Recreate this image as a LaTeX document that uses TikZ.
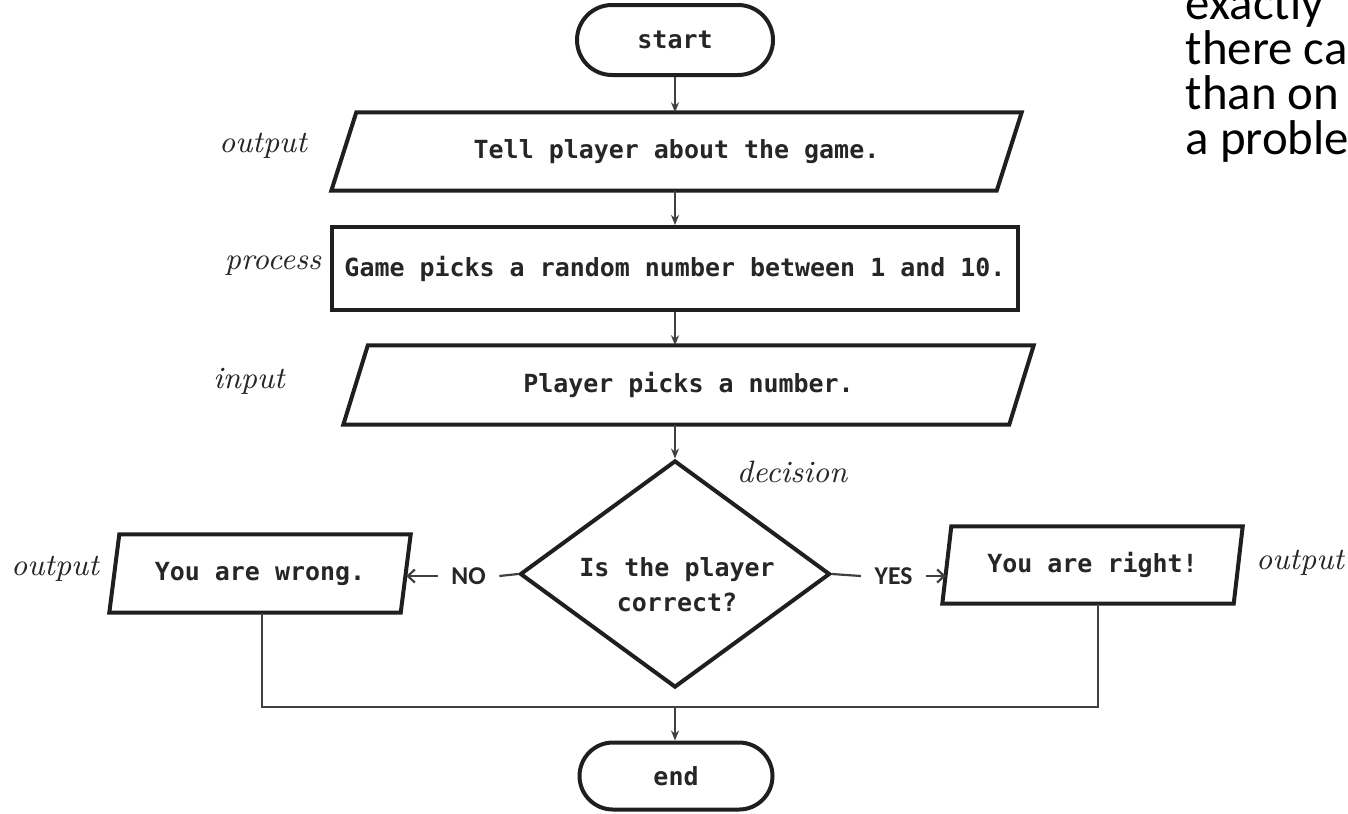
\documentclass[tikz,border=0pt]{standalone}
\usepackage{fontspec}
\usetikzlibrary{shapes.geometric,shapes.misc,arrows.meta,calc}
\newfontfamily\monobold{DejaVu Sans Mono}[BoldFont={DejaVu Sans Mono Bold}]
\newfontfamily\calibrilike{Carlito}
% outline of a slanted input/output box drawn around a plain node
\newcommand\paraOutline[2]{%
  \draw[shapeline] ([xshift=#2]#1.north west) -- (#1.north east)
    -- ([xshift=-#2]#1.south east) -- (#1.south west) -- cycle;}
\begin{document}
\begin{tikzpicture}[x=0.1mm,y=-0.1mm,
  shapeline/.style={line width=0.4mm, draw=black!88},
  conn/.style={line width=0.22mm, draw=black!75},
  arr/.style={conn, -{Stealth[length=1mm,width=0.8mm]}},
  txtarr/.style={conn, -{Straight Barb[length=0.7mm,width=1.3mm]}},
  boxtext/.style={font=\monobold\bfseries\fontsize{7.1}{9.96}\selectfont, text=black!85},
  hand/.style={font=\itshape\fontsize{8.8}{10}\selectfont, text=black!85},
  terminal/.style={rounded rectangle, shapeline, boxtext, inner sep=0},
  iobox/.style={boxtext, inner sep=0},
  yesno/.style={font=\calibrilike\bfseries\fontsize{7.3}{8}\selectfont, text=black!85, inner xsep=1.3mm, inner ysep=0},
  note/.style={anchor=base west, inner sep=0, font=\calibrilike\fontsize{13.9}{15}\selectfont, text=black},
]
\useasboundingbox (0,0) rectangle (1348,813);
\clip (0,0) rectangle (1348,813);

% terminals
\node[terminal, minimum width=19.6mm, minimum height=7mm] (start) at (675,40) {start};
\node[terminal, minimum width=19.3mm, minimum height=6.7mm] (end) at (676,776) {end};

% main column
\node[iobox, minimum width=68.9mm, minimum height=7.7mm] (tell) at (676.5,151.5) {Tell player about the game.};
\paraOutline{tell}{2.5mm}
\node[boxtext, shapeline, inner sep=0, minimum width=68.6mm, minimum height=8.3mm] (pick) at (675,268.5) {Game picks a random number between 1 and 10.};
\node[iobox, minimum width=68.9mm, minimum height=7.8mm] (guess) at (688.5,385) {Player picks a number.};
\paraOutline{guess}{2.45mm}

% decision
\node[diamond, shapeline, inner sep=0, minimum width=31mm, minimum height=22.7mm] (dec) at (675,574) {};
\node[boxtext, align=center, inner sep=0] (dectext) at (677,585) {Is the player\\correct?};

% outcome boxes
\node[iobox, minimum width=30mm, minimum height=7.7mm] (wrong) at (260,573.5) {You are wrong.};
\paraOutline{wrong}{1mm}
\node[iobox, minimum width=29.9mm, minimum height=7.6mm] (right) at (1092.5,565) {You are right!};
\paraOutline{right}{0.9mm}

% side labels
\node[hand] (lout1) at (263,146) {output};
\node[hand] (lproc) at (273,266) {process};
\node[hand] (linp) at (249,381) {input};
\node[hand] (ldec) at (792,472) {decision};
\node[hand] (lout2) at (55,569) {output};
\node[hand] (lout3) at (1300,563) {output};

% branch labels
\node[yesno] (no) at (468.5,576) {NO};
\node[yesno] (yes) at (893.5,576) {YES};

% connectors
\draw[arr] (start.south) -- (start.south |- tell.north);
\draw[arr] (tell.south -| start) -- (pick.north -| start);
\draw[arr] (pick.south -| start) -- (guess.north -| start);
\draw[arr] (guess.south -| start) -- (dec.north);
\draw[conn] (dec.west) -- (no.east);
\draw[txtarr] (no.west) -- ([xshift=-0.45mm]no.west -| wrong.east);
\draw[conn] (dec.east) -- (yes.west);
\draw[txtarr] (yes.east) -- ([xshift=0.35mm]yes.east -| right.west);
\coordinate (join) at (675,707);
\draw[conn] ([xshift=0.2mm]wrong.south) |- (join) -| ([xshift=0.55mm]right.south);
\draw[arr] (join) -- (join |- end.north);

% text running in from the right
\node[note] (n1) at (1185,19) {exactly};
\node[note] (n2) at (1185,64) {there ca};
\node[note] (n3) at (1185,109) {than on};
\node[note] (n4) at (1185,154) {a proble};
\end{tikzpicture}
\end{document}
